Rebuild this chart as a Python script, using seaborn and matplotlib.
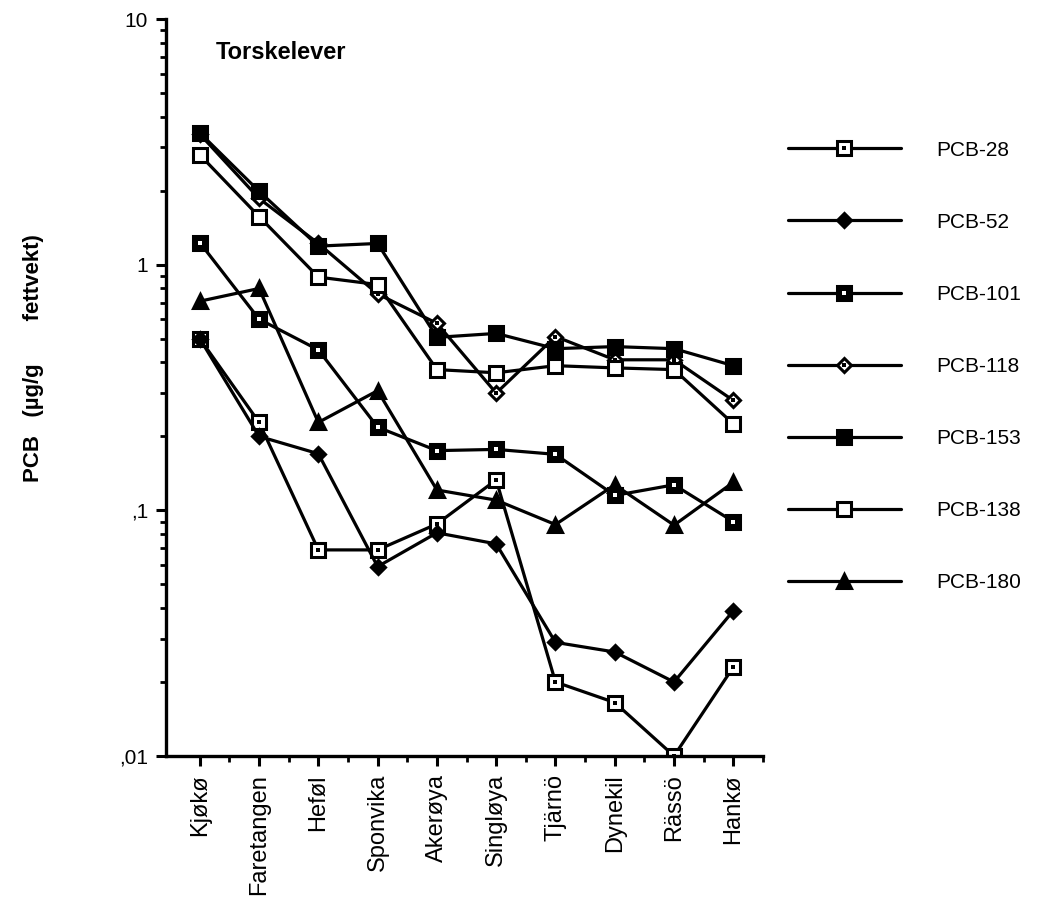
import numpy as np
import pandas as pd
import matplotlib
matplotlib.use("Agg")
import matplotlib.pyplot as plt
from matplotlib.lines import Line2D
from matplotlib.ticker import LogLocator, NullFormatter, FixedLocator
import seaborn as sns

# Stasjoner
sites = ["Kjøkø", "Faretangen", "Heføl", "Sponvika", "Akerøya",
         "Singløya", "Tjärnö", "Dynekil", "Rässö", "Hankø"]

# PCB i torskelever (µg/g fettvekt), lest av figuren
pcb28 = [0.50, 0.228, 0.069, 0.069, 0.088, 0.133, 0.020, 0.0165, 0.010, 0.023]
pcb52 = [0.50, 0.20, 0.17, 0.059, 0.081, 0.073, 0.029, 0.0265, 0.020, 0.039]
pcb101 = [1.23, 0.60, 0.45, 0.218, 0.175, 0.177, 0.169, 0.115, 0.127, 0.090]
pcb118 = [3.4, 1.86, 1.22, 0.76, 0.577, 0.30, 0.51, 0.41, 0.41, 0.28]
pcb153 = [3.44, 1.99, 1.19, 1.22, 0.506, 0.525, 0.455, 0.464, 0.455, 0.388]
pcb138 = [2.80, 1.57, 0.89, 0.83, 0.374, 0.363, 0.388, 0.380, 0.374, 0.225]
pcb180 = [0.71, 0.80, 0.228, 0.307, 0.121, 0.110, 0.0875, 0.127, 0.087, 0.130]

series = {
    "PCB-28": pcb28,
    "PCB-52": pcb52,
    "PCB-101": pcb101,
    "PCB-118": pcb118,
    "PCB-153": pcb153,
    "PCB-138": pcb138,
    "PCB-180": pcb180,
}

# markør: (form, fyll, prikk i midten)
marker_style = {
    "PCB-28": ("s", "white", "black"),
    "PCB-52": ("D", "black", None),
    "PCB-101": ("s", "black", "white"),
    "PCB-118": ("D", "white", "black"),
    "PCB-153": ("s", "black", None),
    "PCB-138": ("s", "white", None),
    "PCB-180": ("^", "black", None),
}

rows = []
for name, vals in series.items():
    for s, v in zip(sites, vals):
        rows.append({"stasjon": s, "pcb": v, "serie": name})
df = pd.DataFrame(rows)

sns.set_style("ticks")
plt.rcParams["font.family"] = ["Liberation Sans", "DejaVu Sans"]
plt.rcParams["text.color"] = "black"

fig = plt.figure(figsize=(10.44, 9.06), dpi=100)
ax = fig.add_axes([0.159, 0.1656, 0.5718, 0.8134])

msize = {"s": 9.5, "D": 7.5, "^": 9.5}
handles = []
for name in series:
    sub = df[df["serie"] == name]
    mk, face, dot = marker_style[name]
    sns.lineplot(data=sub, x="stasjon", y="pcb", ax=ax, color="black",
                 linewidth=2.3, marker=mk, markersize=msize[mk],
                 markerfacecolor=face, markeredgecolor="black",
                 markeredgewidth=2.2, sort=False, legend=False)
    h = Line2D([], [], color="black", linewidth=2.3, marker=mk,
               markersize=msize[mk], markerfacecolor=face,
               markeredgecolor="black", markeredgewidth=2.2)
    if dot is not None:
        sns.scatterplot(data=sub, x="stasjon", y="pcb", ax=ax, color=dot,
                        marker="s", s=5, linewidth=0, zorder=5, legend=False)
        d = Line2D([], [], linestyle="none", marker="s", markersize=2.2,
                   markerfacecolor=dot, markeredgewidth=0)
        handles.append((h, d))
    else:
        handles.append(h)

ax.set_yscale("log")
ax.set_ylim(0.01, 10)
ax.set_xlim(-0.57, 9.5)
ax.set_yticks([0.01, 0.1, 1, 10], labels=[",01", ",1", "1", "10"])
ax.yaxis.set_minor_locator(LogLocator(base=10, subs=np.arange(2, 10)))
ax.yaxis.set_minor_formatter(NullFormatter())
ax.set_xticks(range(len(sites)), labels=sites, rotation=90)
ax.xaxis.set_minor_locator(FixedLocator(np.arange(0.5, 10, 1.0)))

ax.tick_params(axis="both", which="major", direction="out", width=2.2,
               length=7, color="black", labelcolor="black", labelsize=15,
               pad=6)
ax.tick_params(axis="both", which="minor", direction="out", width=2.0,
               length=4.5, color="black")
ax.tick_params(axis="x", which="major", labelsize=17)
for sp in ["top", "right"]:
    ax.spines[sp].set_visible(False)
for sp in ["left", "bottom"]:
    ax.spines[sp].set_linewidth(2.4)
    ax.spines[sp].set_color("black")
ax.set_xlabel("")
ax.set_ylabel("")

ax.text(0.083, 0.955, "Torskelever", transform=ax.transAxes,
        fontsize=17, fontweight="bold", va="center", ha="left")

fig.text(0.032, 0.605, "PCB   (µg/g       fettvekt)", rotation=90,
         fontsize=16, fontweight="bold", ha="center", va="center")

fig.legend(handles, list(series.keys()), loc="center left",
           bbox_to_anchor=(0.7548, 0.5955), frameon=False, fontsize=15,
           handlelength=5.4, handletextpad=1.7, labelspacing=2.55,
           borderpad=0, borderaxespad=0)

fig.savefig("out.png", dpi=100)
